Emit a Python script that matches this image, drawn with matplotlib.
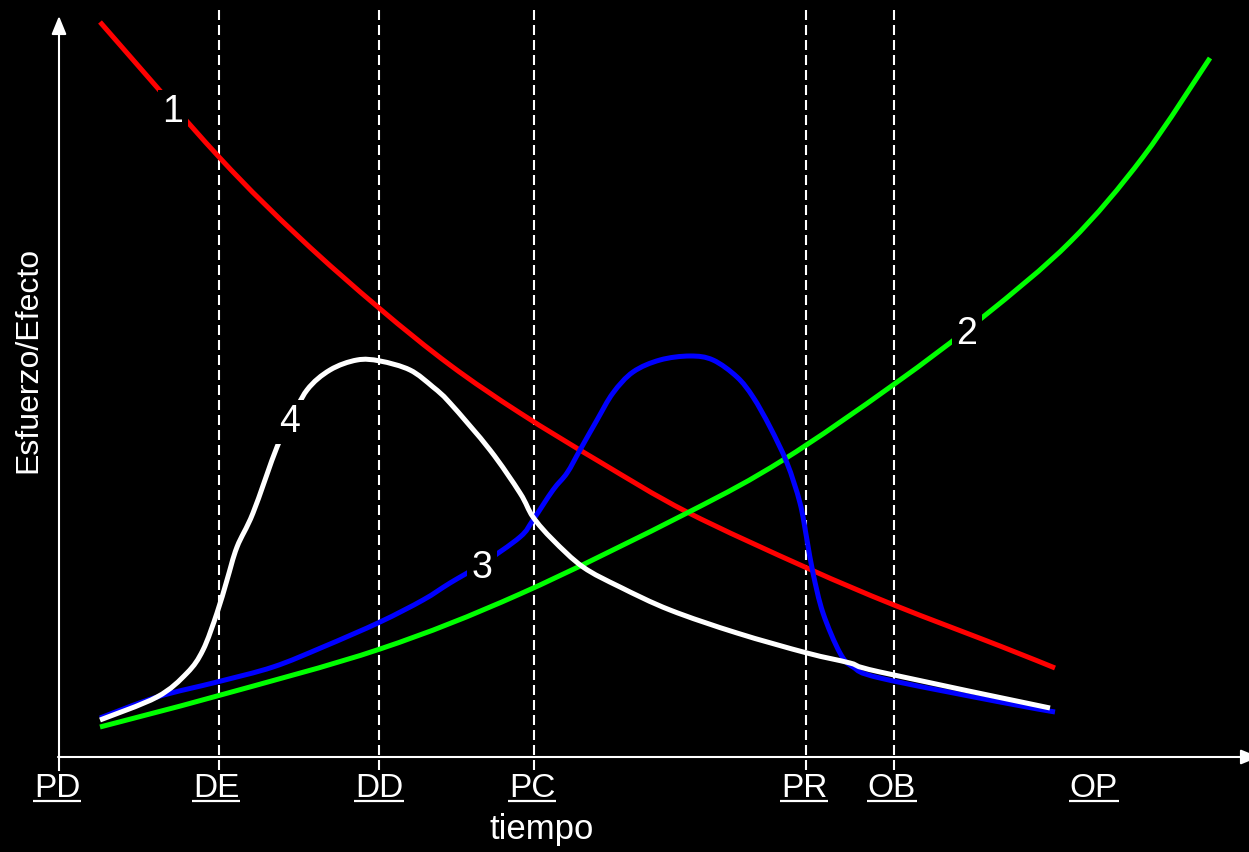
import matplotlib
matplotlib.use("Agg")
import numpy as np
from matplotlib import pyplot as plt
from matplotlib.path import Path
from matplotlib.patches import PathPatch

plt.rcParams["font.family"] = ["Liberation Sans", "DejaVu Sans"]

# curve data (time, effort/effect), arbitrary units
red_x = [41, 160, 241, 320, 391, 461, 541, 628, 748, 835, 941, 996]
red_y = [735, 600, 519, 449, 392, 344, 295, 245, 189, 152, 111, 89]

green_x = [41, 158, 321, 461, 628, 724, 834, 924, 1011, 1084, 1151]
green_y = [30, 61, 108, 163, 244, 297, 372, 440, 515, 600, 699]

blue_x = [41, 98, 158, 214, 264, 321, 364, 391, 423, 461, 474, 494, 508, 521, 538, 554,
          574, 601, 631, 654, 678, 694, 711, 728, 741, 748, 754, 764, 781, 794, 821, 941, 996]
blue_y = [39, 60, 75, 90, 110, 135, 157, 174, 193, 220, 237, 267, 284, 307, 337, 364,
          385, 397, 401, 397, 380, 360, 330, 294, 254, 217, 184, 144, 104, 90, 79, 55, 45]

white_x = [41, 98, 128, 144, 158, 168, 178, 194, 218, 231, 248, 271, 298, 321, 351, 374,
           391, 431, 461, 474, 494, 524, 561, 611, 678, 748, 791, 821, 991]
white_y = [37, 60, 84, 107, 144, 177, 210, 244, 310, 335, 367, 387, 397, 396, 387, 370,
           354, 307, 264, 240, 217, 190, 170, 147, 124, 104, 94, 85, 49]

curve_labels = ["1", "2", "3", "4"]
curve_label_x = [114, 908, 423, 231]
curve_label_y = [645, 423, 189, 335]

phase_names = ["PD", "DE", "DD", "PC", "PR", "OB", "OP"]
phase_pos = [-2, 157, 320, 473, 745, 833, 1035]
phase_lines = [160, 320, 475, 747, 835]


def smooth_path(xs, ys):
    # draw through the read points with bezier segments (catmull-rom style)
    p = np.column_stack([xs, ys]).astype(float)
    p = np.vstack([p[0], p, p[-1]])
    verts = [p[1]]
    codes = [Path.MOVETO]
    for i in range(1, len(p) - 2):
        c1 = p[i] + (p[i + 1] - p[i - 1]) / 6
        c2 = p[i + 1] - (p[i + 2] - p[i]) / 6
        verts += [c1, c2, p[i + 1]]
        codes += [Path.CURVE4] * 3
    return Path(verts, codes)


fig = plt.figure(figsize=(12.49, 8.52), dpi=100, facecolor="black")
ax = fig.add_axes([0, 0, 1, 1])
ax.set_facecolor("black")
ax.set_xlim(-59, 1190)
ax.set_ylim(-95, 757)
ax.axis("off")

# dashed phase lines
for x in phase_lines:
    ax.plot([x, x], [-13, 749], color="white", lw=1.5, dashes=(4.8, 2.4), zorder=1)

# axes with arrows
arrow = dict(arrowstyle="-|>,head_length=1.1,head_width=0.45",
             color="white", lw=1.5, shrinkA=0, shrinkB=0)
ax.plot([0, 0], [-13, 0], color="white", lw=1.5, zorder=2)
ax.annotate("", xy=(0, 741), xytext=(0, -1), arrowprops=arrow,
            annotation_clip=False, zorder=2)
ax.annotate("", xy=(1200, 0), xytext=(-1, 0), arrowprops=arrow,
            annotation_clip=False, zorder=2)

lw = 3.6
for xs, ys, col, z in [(red_x, red_y, "#ff0000", 3), (green_x, green_y, "#00ff00", 3),
                       (blue_x, blue_y, "#0000ff", 4), (white_x, white_y, "white", 5)]:
    ax.add_patch(PathPatch(smooth_path(xs, ys), fill=False, edgecolor=col, lw=lw,
                           capstyle="butt", joinstyle="round", zorder=z))

for lab, x, y in zip(curve_labels, curve_label_x, curve_label_y):
    ax.text(x, y, lab, color="white", fontsize=27, ha="center", va="center", zorder=10,
            bbox=dict(facecolor="black", edgecolor="none", pad=3))

# phase labels, underlined
fig.canvas.draw()
renderer = fig.canvas.get_renderer()
inv = ax.transData.inverted()
for name, x in zip(phase_names, phase_pos):
    t = ax.text(x, -40, name, color="white", fontsize=24, ha="center", va="baseline")
    bb = t.get_window_extent(renderer=renderer)
    base = ax.transData.transform((x, -40))[1] - 4
    (x0, y0), (x1, _) = inv.transform([(bb.x0 - 1, base), (bb.x1 + 1, base)])
    ax.plot([x0, x1], [y0, y0], color="white", lw=1.6, solid_capstyle="butt")

ax.text(483, -73, "tiempo", color="white", fontsize=25, ha="center", va="center")
ax.text(-31, 397, "Esfuerzo/Efecto", color="white", fontsize=23, rotation=90,
        ha="center", va="center")

fig.savefig("out.png", dpi=100, facecolor="black")
